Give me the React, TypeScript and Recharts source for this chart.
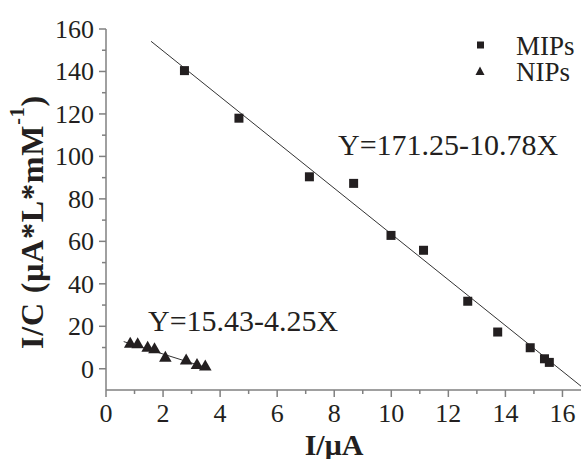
import React from 'react';
import { ScatterChart, Scatter, XAxis, YAxis, Customized } from 'recharts';

// 読み取った値
const mipsX = [2.75, 4.66, 7.13, 8.68, 9.99, 11.13, 12.68, 13.73, 14.87, 15.37, 15.54];
const mipsY = [140.4, 118.0, 90.4, 87.3, 62.8, 55.8, 31.8, 17.3, 9.9, 4.7, 3.0];
const nipsX = [0.85, 1.11, 1.46, 1.70, 2.08, 2.81, 3.19, 3.48];
const nipsY = [11.6, 11.4, 9.8, 9.0, 5.0, 3.8, 1.6, 0.9];

// 近似直線の端点
const mipsFitX = [1.58, 16.65];
const mipsFitY = [154.2, -8.2];
const nipsFitX = [0.62, 3.45];
const nipsFitY = [12.8, 0.8];

const xMajorTicks = [0, 2, 4, 6, 8, 10, 12, 14, 16];
const xMinorTicks = [1, 3, 5, 7, 9, 11, 13, 15];
const yMajorTicks = [0, 20, 40, 60, 80, 100, 120, 140, 160];
const yMinorTicks = [10, 30, 50, 70, 90, 110, 130, 150];

const mipsEquation = 'Y=171.25-10.78X';
const nipsEquation = 'Y=15.43-4.25X';

const FONT = 'Liberation Serif';
const INK = '#231f20';
const AXIS = '#808080';

const toPoints = (xs: number[], ys: number[]) => xs.map((x, i) => ({ x, y: ys[i] }));

const mipsData = toPoints(mipsX, mipsY);
const nipsData = toPoints(nipsX, nipsY);
const mipsFit = toPoints(mipsFitX, mipsFitY);
const nipsFit = toPoints(nipsFitX, nipsFitY);

const xTicks = [...xMajorTicks, ...xMinorTicks].sort((a, b) => a - b);
const yTicks = [...yMajorTicks, ...yMinorTicks].sort((a, b) => a - b);

const X_TICK_SIZE = 7;
const X_TICK_MARGIN = 7;
const Y_TICK_SIZE = 7;
const Y_TICK_MARGIN = 5;

const txt = (size: number, bold = false): React.CSSProperties => ({
    fontFamily: FONT,
    fontSize: size,
    fontWeight: bold ? 'bold' : 'normal',
});

function XTick(props: any) {
    const { x, y, payload } = props;
    const axisY = y - X_TICK_SIZE - X_TICK_MARGIN;
    const major = xMajorTicks.includes(payload.value);
    return (
        <g>
            <line x1={x} x2={x} y1={axisY} y2={axisY + (major ? 7 : 4)} stroke={AXIS} strokeWidth={1.5} />
            {major && (
                <text x={x} y={y} dy="0.71em" textAnchor="middle" fill={INK} style={txt(26)}>
                    {payload.value}
                </text>
            )}
        </g>
    );
}

function YTick(props: any) {
    const { x, y, payload } = props;
    const axisX = x + Y_TICK_SIZE + Y_TICK_MARGIN;
    const major = yMajorTicks.includes(payload.value);
    return (
        <g>
            <line x1={axisX} x2={axisX - (major ? 7 : 4)} y1={y} y2={y} stroke={AXIS} strokeWidth={1.5} />
            {major && (
                <text x={x} y={y} dy="0.34em" textAnchor="end" fill={INK} style={txt(26)}>
                    {payload.value}
                </text>
            )}
        </g>
    );
}

const Square = (props: any) => {
    const { cx, cy } = props;
    return <rect x={cx - 4.5} y={cy - 4.5} width={9} height={9} fill={INK} />;
};

const Triangle = (props: any) => {
    const { cx, cy } = props;
    return <polygon points={`${cx},${cy - 7.3} ${cx - 6.3},${cy + 3.7} ${cx + 6.3},${cy + 3.7}`} fill={INK} />;
};

const NoDot = () => <g />;

function Annotations() {
    return (
        <g fill={INK}>
            {/* legend */}
            <rect x={477} y={41.5} width={7} height={7} fill={INK} />
            <text x={516} y={55} style={txt(27)}>MIPs</text>
            <polygon points="480,66.5 475.5,75 484.5,75" fill={INK} />
            <text x={516} y={81} style={txt(27)}>NIPs</text>

            {/* equations */}
            <text x={338} y={155} style={txt(30)}>{mipsEquation}</text>
            <text x={148} y={331} style={txt(30)}>{nipsEquation}</text>

            {/* axis titles */}
            <text x={334} y={455} textAnchor="middle" style={txt(30, true)}>I/μA</text>
            <text transform="translate(43,222) rotate(-90)" textAnchor="middle" style={{ ...txt(32, true), letterSpacing: 0.8 }}>
                I/C (μA*L*mM<tspan dy={-19} style={{ fontSize: 20 }}>-1</tspan><tspan dy={19}>)</tspan>
            </text>
        </g>
    );
}

export default function App() {
    return (
        <div style={{ position: 'absolute', left: 0, top: 0, width: 581, height: 459, background: '#fff' }}>
            <ScatterChart width={581} height={459} margin={{ top: 29, right: 0, bottom: 0, left: 0 }}>
                <XAxis
                    type="number"
                    dataKey="x"
                    domain={[0, 16.65]}
                    ticks={xTicks}
                    interval={0}
                    allowDataOverflow
                    height={69}
                    tickSize={X_TICK_SIZE}
                    tickMargin={X_TICK_MARGIN}
                    tickLine={false}
                    axisLine={{ stroke: AXIS, strokeWidth: 1.5 }}
                    tick={(p: any) => <XTick {...p} />}
                />
                <YAxis
                    type="number"
                    dataKey="y"
                    domain={[-10, 160]}
                    ticks={yTicks}
                    interval={0}
                    allowDataOverflow
                    width={106}
                    tickSize={Y_TICK_SIZE}
                    tickMargin={Y_TICK_MARGIN}
                    tickLine={false}
                    axisLine={{ stroke: AXIS, strokeWidth: 1.5 }}
                    tick={(p: any) => <YTick {...p} />}
                />
                <Scatter data={mipsFit} line={{ stroke: '#333', strokeWidth: 1 }} shape={NoDot} isAnimationActive={false} />
                <Scatter data={nipsFit} line={{ stroke: '#333', strokeWidth: 1 }} shape={NoDot} isAnimationActive={false} />
                <Scatter data={mipsData} shape={Square} isAnimationActive={false} />
                <Scatter data={nipsData} shape={Triangle} isAnimationActive={false} />
                <Customized component={Annotations} />
            </ScatterChart>
        </div>
    );
}
